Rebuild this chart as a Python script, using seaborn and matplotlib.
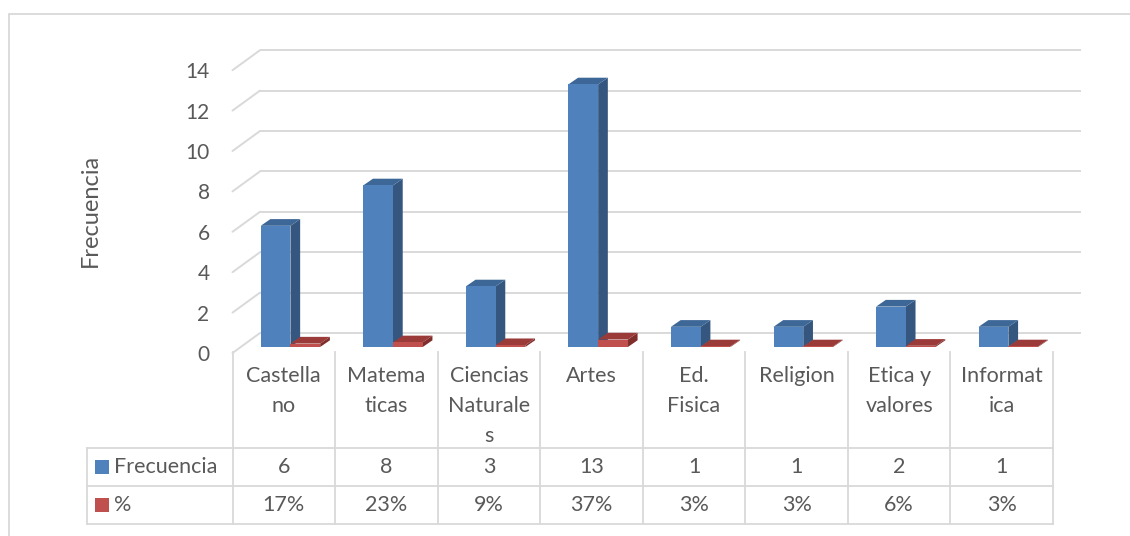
import numpy as np
import pandas as pd
import matplotlib
matplotlib.use("Agg")
import matplotlib.pyplot as plt
import seaborn as sns
from matplotlib.patches import Polygon, Rectangle
from matplotlib.transforms import ScaledTranslation

# Datos
materias = ["Castellano", "Matematicas", "Ciencias Naturales", "Artes",
            "Ed. Fisica", "Religion", "Etica y valores", "Informatica"]
etiquetas = ["Castella\nno", "Matema\nticas", "Ciencias\nNaturale\ns", "Artes",
             "Ed.\nFisica", "Religion", "Etica y\nvalores", "Informat\nica"]
frecuencia = [6, 8, 3, 13, 1, 1, 2, 1]
porcentaje = [0.17, 0.23, 0.09, 0.37, 0.03, 0.03, 0.06, 0.03]
series = ["Frecuencia", "%"]
yticks = np.arange(0, 15, 2)

azul, rojo = "#4f81bd", "#c0504d"
azul_lado, azul_tope = "#34567f", "#3d6797"
rojo_lado, rojo_tope = "#7f2e2c", "#9a3b39"
gris_txt, gris_lin = "#595959", "#d9d9d9"

df = pd.DataFrame({
    "materia": materias * 2,
    "serie": [series[0]] * 8 + [series[1]] * 8,
    "valor": frecuencia + porcentaje,
})

sns.set_theme(style="white")
plt.rcParams["font.family"] = ["Lato", "DejaVu Sans"]

W, H = 1130, 536
fig = plt.figure(figsize=(W / 100, H / 100), dpi=100)

# ejes principales (en pixeles de la figura)
x_izq, x_der, y_base, y_sup = 232.5, 1053, 347, 44
ax = fig.add_axes([x_izq / W, 1 - y_base / H, (x_der - x_izq) / W, (y_base - y_sup) / H])

sns.barplot(data=df, x="materia", y="valor", hue="serie", hue_order=series,
            palette=[azul, rojo], width=0.58, saturation=1, legend=False,
            linewidth=0, ax=ax, zorder=3)

desplaz = 0.065
ax.set_xlim(-0.5 - desplaz, 7.5 - desplaz)
ax.set_ylim(0, 15)

# profundidad 3D
px_x = (x_der - x_izq) / 8
px_y = (y_base - y_sup) / 15
dx, dy = 9.7 / px_x, 6.7 / px_y
pared_dx, pared_dy, frente_dy = 27.5 / px_x, 14 / px_y, -6 / px_y

x_pared = -0.5 - desplaz + pared_dx
for v in yticks:
    ax.plot([x_pared, 7.5 - desplaz + pared_dx], [v + pared_dy] * 2, color=gris_lin,
            lw=1.4, zorder=1, clip_on=False, solid_capstyle="butt")
    ax.plot([-0.5 - desplaz, x_pared], [v + frente_dy, v + pared_dy], color=gris_lin,
            lw=1.4, zorder=1, clip_on=False)

for i, p in enumerate(list(ax.patches)):
    x0, w, h = p.get_x(), p.get_width(), p.get_height()
    lado, tope = (azul_lado, azul_tope) if i < len(materias) else (rojo_lado, rojo_tope)
    ax.add_patch(Polygon([(x0 + w, 0), (x0 + w + dx, dy), (x0 + w + dx, h + dy), (x0 + w, h)],
                         closed=True, fc=lado, lw=0, zorder=2))
    ax.add_patch(Polygon([(x0, h), (x0 + w, h), (x0 + w + dx, h + dy), (x0 + dx, h + dy)],
                         closed=True, fc=tope, lw=0, zorder=2))

for s in ax.spines.values():
    s.set_visible(False)
ax.set_xticks([])
ax.set_xlabel("")
ax.set_ylabel("")
ax.set_yticks(yticks)
ax.set_yticklabels([str(v) for v in yticks])
ax.tick_params(axis="y", length=0, pad=16.5, labelsize=15, labelcolor=gris_txt)
for lab in ax.get_yticklabels():
    lab.set_transform(lab.get_transform() + ScaledTranslation(0, -0.06, fig.dpi_scale_trans))
ax.grid(False)

fig.text(90 / W, 1 - 210 / H, "Frecuencia", rotation=90, ha="center", va="center",
         fontsize=17, color=gris_txt)

# tabla de datos
t_izq, t_sup, t_inf = 87, 352, 524
tab = fig.add_axes([t_izq / W, 1 - t_inf / H, (x_der - t_izq) / W, (t_inf - t_sup) / H])
col0 = (x_izq - t_izq) / px_x
alto = (t_inf - t_sup) / 38
tab.set_xlim(-0.5 - col0, 7.5)
tab.set_ylim(0, alto)
tab.axis("off")

kw = dict(color=gris_lin, lw=1.3, solid_capstyle="projecting", clip_on=False)
for y in [0, 1, 2]:
    tab.plot([-0.5 - col0, 7.5], [y, y], **kw)
tab.plot([-0.5 - col0] * 2, [0, 2], **kw)
for k in range(len(materias) + 1):
    tab.plot([k - 0.5] * 2, [0, alto], **kw)

fs = 15.5
for k, (et, f, pc) in enumerate(zip(etiquetas, frecuencia, porcentaje)):
    tab.text(k, alto - 14 / 38, et, ha="center", va="top", fontsize=fs,
             color=gris_txt, linespacing=1.62)
    tab.text(k, 1.5, str(f), ha="center", va="center", fontsize=fs, color=gris_txt)
    tab.text(k, 0.5, f"{pc:.0%}", ha="center", va="center", fontsize=fs, color=gris_txt)

for fila, (nombre, col) in enumerate(zip(series, [azul, rojo])):
    yc = 1.5 - fila
    tab.add_patch(Rectangle((-0.5 - col0 + 8 / px_x, yc - 7 / 38), 14 / px_x, 14 / 38,
                            fc=col, lw=0, clip_on=False))
    tab.text(-0.5 - col0 + 27 / px_x, yc, nombre, ha="left", va="center",
             fontsize=fs, color=gris_txt)

# borde del area del grafico
fig.add_artist(Rectangle((9 / W, -0.1), 1.2, 1.1 - 13.5 / H, transform=fig.transFigure,
                         fill=False, ec=gris_lin, lw=1.3))

fig.savefig("out.png", dpi=100)
